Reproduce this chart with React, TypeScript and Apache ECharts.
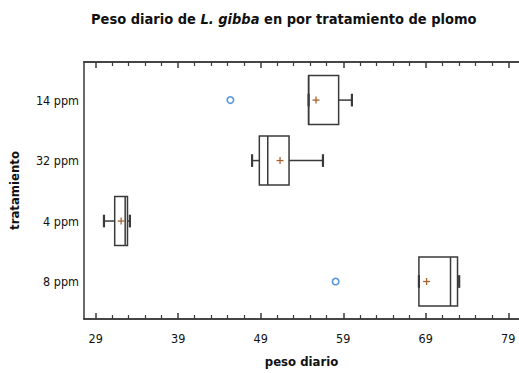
import React, { useEffect, useRef } from "react";
import * as echarts from "echarts";

const categories = ["14 ppm", "32 ppm", "4 ppm", "8 ppm"];
const whiskerLow = [54.8, 47.95, 30.0, 68.17];
const q1 = [54.8, 48.83, 31.3, 68.17];
const medians = [54.8, 49.85, 32.57, 72.0];
const q3 = [58.44, 52.43, 32.85, 72.85];
const whiskerHigh = [60.05, 56.54, 33.14, 73.05];
const means = [55.7, 51.34, 32.08, 69.1];
const outlierValues = [45.32, 58.08];
const outlierCategory = [0, 3];
const majorTicks = [29, 39, 49, 59, 69, 79];
const minorTicks = [31, 33, 35, 37, 41, 43, 45, 47, 51, 53, 55, 57, 61, 63, 65, 67, 71, 73, 75, 77];

const FONT = "'Liberation Sans Narrow', 'DejaVu Sans Condensed', 'Liberation Sans', sans-serif";
const LINE = "#3a3a3a";

export default function App() {
  const ref = useRef<HTMLDivElement>(null);
  useEffect(() => {
    if (!ref.current) return;
    const chart = echarts.init(ref.current, null, { renderer: "svg" });
    const boxData = categories.map((_, i) => [i, whiskerLow[i], q1[i], medians[i], q3[i], whiskerHigh[i], means[i]]);
    const outData = outlierValues.map((v, i) => [v, outlierCategory[i]]);
    const xMin = 27.58;
    const xMax = 80.3;
    const baseX = {
      type: "value",
      min: xMin,
      max: xMax,
      splitLine: { show: false },
      axisLine: { show: true, onZero: false, lineStyle: { color: LINE, width: 1.5 } },
    };
    const option: any = {
      animation: false,
      title: {
        text: "Peso diario de {i|L. gibba} en por tratamiento de plomo",
        left: 86,
        top: 6,
        textStyle: {
          fontFamily: FONT,
          fontSize: 14.5,
          fontWeight: "bold",
          color: "#111",
          rich: {
            i: { fontFamily: FONT, fontSize: 14.5, fontWeight: "bold", fontStyle: "italic", color: "#111" },
          },
        },
      },
      grid: { left: 84, right: 0, top: 62, bottom: 49 },
      xAxis: [
        {
          ...baseX,
          position: "bottom",
          name: "peso diario",
          nameLocation: "middle",
          nameGap: 36,
          nameTextStyle: { fontFamily: FONT, fontSize: 13, fontWeight: "bold", color: "#111" },
          axisTick: { show: true, inside: true, length: 6, customValues: majorTicks, lineStyle: { color: LINE, width: 1.5 } },
          axisLabel: { show: true, customValues: majorTicks, margin: 13, fontFamily: FONT, fontSize: 12.5, color: "#111" },
        },
        {
          ...baseX,
          position: "bottom",
          axisTick: { show: true, inside: true, length: 4, customValues: minorTicks, lineStyle: { color: LINE, width: 1.2 } },
          axisLabel: { show: false },
        },
        {
          ...baseX,
          position: "top",
          axisTick: { show: true, inside: true, length: 6, customValues: majorTicks, lineStyle: { color: LINE, width: 1.5 } },
          axisLabel: { show: false },
        },
        {
          ...baseX,
          position: "top",
          axisTick: { show: true, inside: true, length: 4, customValues: minorTicks, lineStyle: { color: LINE, width: 1.2 } },
          axisLabel: { show: false },
        },
      ],
      yAxis: {
        type: "value",
        inverse: true,
        min: -0.63,
        max: 3.62,
        splitLine: { show: false },
        axisLine: { show: true, onZero: false, lineStyle: { color: LINE, width: 1.5 } },
        axisTick: { show: false },
        axisLabel: {
          customValues: [0, 1, 2, 3],
          formatter: (v: number) => categories[Math.round(v)],
          margin: 5,
          fontFamily: FONT,
          fontSize: 12.5,
          color: "#111",
        },
        name: "tratamiento",
        nameLocation: "middle",
        nameGap: 63,
        nameRotate: 90,
        nameTextStyle: { fontFamily: FONT, fontSize: 13, fontWeight: "bold", color: "#111" },
      },
      series: [
        {
          type: "custom",
          xAxisIndex: 0,
          data: boxData,
          encode: { x: [1, 2, 3, 4, 5, 6], y: 0 },
          renderItem: (params: any, api: any) => {
            const c = api.value(0);
            const wl = api.value(1), a = api.value(2), m = api.value(3), b = api.value(4), wh = api.value(5), mean = api.value(6);
            const unit = api.size([0, 1])[1];
            const half = unit * 0.405;
            const cap = unit * 0.105;
            const pWl = api.coord([wl, c]);
            const pA = api.coord([a, c]);
            const pM = api.coord([m, c]);
            const pB = api.coord([b, c]);
            const pWh = api.coord([wh, c]);
            const pMean = api.coord([mean, c]);
            const y = pA[1];
            const st = { stroke: LINE, lineWidth: 1.5, fill: null };
            const capSt = { stroke: LINE, lineWidth: 2.2 };
            const meanSt = { stroke: "#a8612f", lineWidth: 1.3 };
            return {
              type: "group",
              children: [
                { type: "line", shape: { x1: pWl[0], y1: y, x2: pA[0], y2: y }, style: st },
                { type: "line", shape: { x1: pB[0], y1: y, x2: pWh[0], y2: y }, style: st },
                { type: "line", shape: { x1: pWl[0], y1: y - cap, x2: pWl[0], y2: y + cap }, style: capSt },
                { type: "line", shape: { x1: pWh[0], y1: y - cap, x2: pWh[0], y2: y + cap }, style: capSt },
                { type: "rect", shape: { x: pA[0], y: y - half, width: pB[0] - pA[0], height: half * 2 }, style: { stroke: LINE, lineWidth: 1.5, fill: "none" } },
                { type: "line", shape: { x1: pM[0], y1: y - half, x2: pM[0], y2: y + half }, style: st },
                { type: "line", shape: { x1: pMean[0] - 3.5, y1: y, x2: pMean[0] + 3.5, y2: y }, style: meanSt },
                { type: "line", shape: { x1: pMean[0], y1: y - 3.5, x2: pMean[0], y2: y + 3.5 }, style: meanSt },
              ],
            };
          },
        },
        {
          type: "scatter",
          xAxisIndex: 0,
          data: outData,
          symbol: "circle",
          symbolSize: 6.5,
          itemStyle: { color: "#ffffff", borderColor: "#2f7ed8", borderWidth: 1.6 },
        },
      ],
    };
    chart.setOption(option);
    return () => chart.dispose();
  }, []);
  return <div ref={ref} style={{ position: "absolute", left: 0, top: 0, width: 519, height: 373 }} />;
}
